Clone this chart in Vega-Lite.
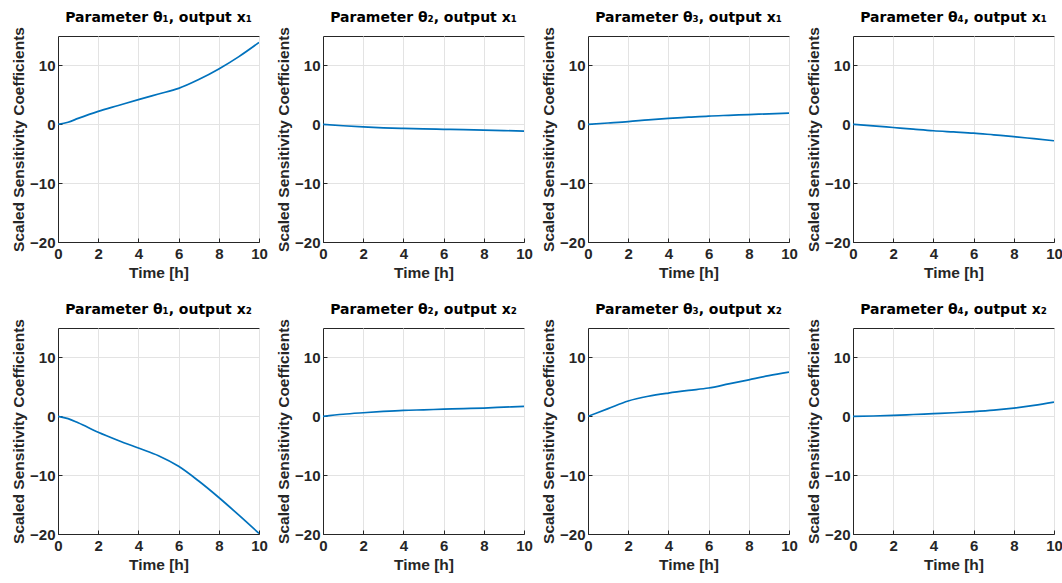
{
  "$schema": "https://vega.github.io/schema/vega-lite/v6.json",
  "padding": {"left": 11, "top": 10, "right": 3, "bottom": 5},
  "background": "white",
  "data": {"values": [
    {"panel": "Parameter θ₁, output x₁", "t": 0, "v": 0},
    {"panel": "Parameter θ₁, output x₁", "t": 0.5, "v": 0.35},
    {"panel": "Parameter θ₁, output x₁", "t": 1, "v": 1.0},
    {"panel": "Parameter θ₁, output x₁", "t": 2, "v": 2.2},
    {"panel": "Parameter θ₁, output x₁", "t": 3, "v": 3.2},
    {"panel": "Parameter θ₁, output x₁", "t": 4, "v": 4.2},
    {"panel": "Parameter θ₁, output x₁", "t": 5, "v": 5.15},
    {"panel": "Parameter θ₁, output x₁", "t": 6, "v": 6.1},
    {"panel": "Parameter θ₁, output x₁", "t": 7, "v": 7.6},
    {"panel": "Parameter θ₁, output x₁", "t": 8, "v": 9.4},
    {"panel": "Parameter θ₁, output x₁", "t": 9, "v": 11.5},
    {"panel": "Parameter θ₁, output x₁", "t": 10, "v": 13.9},

    {"panel": "Parameter θ₂, output x₁", "t": 0, "v": 0},
    {"panel": "Parameter θ₂, output x₁", "t": 1, "v": -0.25},
    {"panel": "Parameter θ₂, output x₁", "t": 2, "v": -0.45},
    {"panel": "Parameter θ₂, output x₁", "t": 3, "v": -0.6},
    {"panel": "Parameter θ₂, output x₁", "t": 4, "v": -0.7},
    {"panel": "Parameter θ₂, output x₁", "t": 5, "v": -0.78},
    {"panel": "Parameter θ₂, output x₁", "t": 6, "v": -0.85},
    {"panel": "Parameter θ₂, output x₁", "t": 7, "v": -0.92},
    {"panel": "Parameter θ₂, output x₁", "t": 8, "v": -1.0},
    {"panel": "Parameter θ₂, output x₁", "t": 9, "v": -1.07},
    {"panel": "Parameter θ₂, output x₁", "t": 10, "v": -1.15},

    {"panel": "Parameter θ₃, output x₁", "t": 0, "v": 0},
    {"panel": "Parameter θ₃, output x₁", "t": 1, "v": 0.22},
    {"panel": "Parameter θ₃, output x₁", "t": 2, "v": 0.45},
    {"panel": "Parameter θ₃, output x₁", "t": 3, "v": 0.75},
    {"panel": "Parameter θ₃, output x₁", "t": 4, "v": 1.0},
    {"panel": "Parameter θ₃, output x₁", "t": 5, "v": 1.2},
    {"panel": "Parameter θ₃, output x₁", "t": 6, "v": 1.4},
    {"panel": "Parameter θ₃, output x₁", "t": 7, "v": 1.53},
    {"panel": "Parameter θ₃, output x₁", "t": 8, "v": 1.65},
    {"panel": "Parameter θ₃, output x₁", "t": 9, "v": 1.78},
    {"panel": "Parameter θ₃, output x₁", "t": 10, "v": 1.9},

    {"panel": "Parameter θ₄, output x₁", "t": 0, "v": 0},
    {"panel": "Parameter θ₄, output x₁", "t": 1, "v": -0.27},
    {"panel": "Parameter θ₄, output x₁", "t": 2, "v": -0.55},
    {"panel": "Parameter θ₄, output x₁", "t": 3, "v": -0.83},
    {"panel": "Parameter θ₄, output x₁", "t": 4, "v": -1.1},
    {"panel": "Parameter θ₄, output x₁", "t": 5, "v": -1.3},
    {"panel": "Parameter θ₄, output x₁", "t": 6, "v": -1.5},
    {"panel": "Parameter θ₄, output x₁", "t": 7, "v": -1.8},
    {"panel": "Parameter θ₄, output x₁", "t": 8, "v": -2.1},
    {"panel": "Parameter θ₄, output x₁", "t": 9, "v": -2.45},
    {"panel": "Parameter θ₄, output x₁", "t": 10, "v": -2.8},

    {"panel": "Parameter θ₁, output x₂", "t": 0, "v": 0},
    {"panel": "Parameter θ₁, output x₂", "t": 0.5, "v": -0.4},
    {"panel": "Parameter θ₁, output x₂", "t": 1, "v": -1.1},
    {"panel": "Parameter θ₁, output x₂", "t": 2, "v": -2.7},
    {"panel": "Parameter θ₁, output x₂", "t": 3, "v": -4.1},
    {"panel": "Parameter θ₁, output x₂", "t": 4, "v": -5.4},
    {"panel": "Parameter θ₁, output x₂", "t": 5, "v": -6.7},
    {"panel": "Parameter θ₁, output x₂", "t": 6, "v": -8.5},
    {"panel": "Parameter θ₁, output x₂", "t": 7, "v": -11.0},
    {"panel": "Parameter θ₁, output x₂", "t": 8, "v": -13.8},
    {"panel": "Parameter θ₁, output x₂", "t": 9, "v": -16.8},
    {"panel": "Parameter θ₁, output x₂", "t": 10, "v": -19.9},

    {"panel": "Parameter θ₂, output x₂", "t": 0, "v": 0},
    {"panel": "Parameter θ₂, output x₂", "t": 1, "v": 0.35},
    {"panel": "Parameter θ₂, output x₂", "t": 2, "v": 0.6},
    {"panel": "Parameter θ₂, output x₂", "t": 3, "v": 0.82},
    {"panel": "Parameter θ₂, output x₂", "t": 4, "v": 1.0},
    {"panel": "Parameter θ₂, output x₂", "t": 5, "v": 1.1},
    {"panel": "Parameter θ₂, output x₂", "t": 6, "v": 1.2},
    {"panel": "Parameter θ₂, output x₂", "t": 7, "v": 1.3},
    {"panel": "Parameter θ₂, output x₂", "t": 8, "v": 1.4},
    {"panel": "Parameter θ₂, output x₂", "t": 9, "v": 1.55},
    {"panel": "Parameter θ₂, output x₂", "t": 10, "v": 1.7},

    {"panel": "Parameter θ₃, output x₂", "t": 0, "v": 0},
    {"panel": "Parameter θ₃, output x₂", "t": 1, "v": 1.3},
    {"panel": "Parameter θ₃, output x₂", "t": 2, "v": 2.6},
    {"panel": "Parameter θ₃, output x₂", "t": 3, "v": 3.4},
    {"panel": "Parameter θ₃, output x₂", "t": 4, "v": 3.95},
    {"panel": "Parameter θ₃, output x₂", "t": 5, "v": 4.4},
    {"panel": "Parameter θ₃, output x₂", "t": 6, "v": 4.8},
    {"panel": "Parameter θ₃, output x₂", "t": 7, "v": 5.5},
    {"panel": "Parameter θ₃, output x₂", "t": 8, "v": 6.2},
    {"panel": "Parameter θ₃, output x₂", "t": 9, "v": 6.9},
    {"panel": "Parameter θ₃, output x₂", "t": 10, "v": 7.5},

    {"panel": "Parameter θ₄, output x₂", "t": 0, "v": 0},
    {"panel": "Parameter θ₄, output x₂", "t": 1, "v": 0.05},
    {"panel": "Parameter θ₄, output x₂", "t": 2, "v": 0.15},
    {"panel": "Parameter θ₄, output x₂", "t": 3, "v": 0.3},
    {"panel": "Parameter θ₄, output x₂", "t": 4, "v": 0.45},
    {"panel": "Parameter θ₄, output x₂", "t": 5, "v": 0.6},
    {"panel": "Parameter θ₄, output x₂", "t": 6, "v": 0.8},
    {"panel": "Parameter θ₄, output x₂", "t": 7, "v": 1.05},
    {"panel": "Parameter θ₄, output x₂", "t": 8, "v": 1.4},
    {"panel": "Parameter θ₄, output x₂", "t": 9, "v": 1.85},
    {"panel": "Parameter θ₄, output x₂", "t": 10, "v": 2.4}
  ]},
  "facet": {
    "field": "panel",
    "type": "nominal",
    "sort": [
      "Parameter θ₁, output x₁", "Parameter θ₂, output x₁", "Parameter θ₃, output x₁", "Parameter θ₄, output x₁",
      "Parameter θ₁, output x₂", "Parameter θ₂, output x₂", "Parameter θ₃, output x₂", "Parameter θ₄, output x₂"
    ],
    "header": {
      "title": null,
      "labelFont": "DejaVu Sans",
      "labelFontSize": 14,
      "labelFontWeight": "bold",
      "labelColor": "#000000",
      "labelPadding": 2
    }
  },
  "columns": 4,
  "spacing": {"column": 64, "row": 86},
  "bounds": "flush",
  "resolve": {"axis": {"x": "independent", "y": "independent"}},
  "spec": {
    "width": 201,
    "height": 206,
    "mark": {"type": "line", "color": "#0072BD", "strokeWidth": 1.7, "interpolate": "monotone", "clip": true},
    "encoding": {
      "x": {
        "field": "t", "type": "quantitative",
        "scale": {"domain": [0, 10], "nice": false},
        "axis": {"title": "Time [h]", "values": [0, 2, 4, 6, 8, 10]}
      },
      "y": {
        "field": "v", "type": "quantitative",
        "scale": {"domain": [-20, 15], "nice": false},
        "axis": {"title": "Scaled Sensitivity Coefficients", "values": [-20, -10, 0, 10]}
      }
    }
  },
  "config": {
    "view": {"stroke": "#262626", "strokeWidth": 1},
    "axis": {
      "labelFont": "Liberation Sans",
      "labelFontSize": 15,
      "labelFontWeight": "bold",
      "labelColor": "#262626",
      "titleFont": "Liberation Sans",
      "titleFontSize": 15.5,
      "titleFontWeight": "bold",
      "titleColor": "#262626",
      "domainColor": "#262626",
      "tickColor": "#262626",
      "tickSize": -4,
      "labelPadding": 8,
      "gridColor": "#e3e3e3",
      "gridOpacity": 1,
      "labelFlush": false,
      "labelOverlap": false
    },
    "axisY": {"titlePadding": 3, "labelPadding": 7},
    "axisX": {"titlePadding": 4}
  }
}
